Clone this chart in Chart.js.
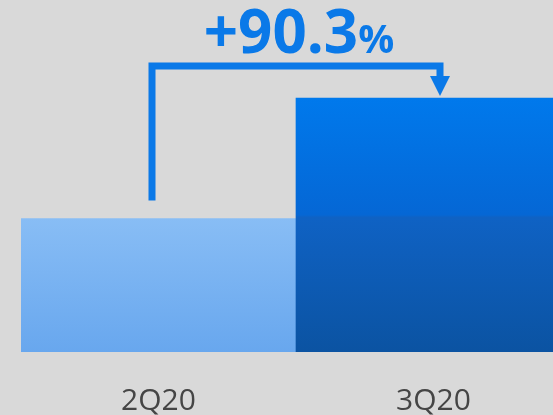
<!DOCTYPE html>
<html>
<head>
<meta charset="utf-8">
<script src="https://cdn.jsdelivr.net/npm/chart.js@4"></script>
<style>
  html, body { margin: 0; padding: 0; background: #d9d9d9; overflow: hidden; width: 553px; height: 415px; }
  #wrap { position: absolute; left: 0; top: 0; width: 571px; height: 415px; }
</style>
</head>
<body>
<div id="wrap"><canvas id="c" width="571" height="415"></canvas></div>
<script>
// Quarters and their values (index 2Q20 = 100)
const quarters = ['2Q20', '3Q20'];
const values = [100, 190.3];

const ACCENT = '#0a79e8';
const barStops = [
  [[0, '#88bdf5'], [1, '#68a7ee']],
  [[0, '#0079ec'], [0.46, '#0567d5'], [0.47, '#0f62c4'], [1, '#0b53a2']]
];

function barGradient(ctx) {
  const chart = ctx.chart;
  const area = chart.chartArea;
  if (!area || ctx.type !== 'data') return barStops[0][0][1];
  const y = chart.scales.y;
  const top = y.getPixelForValue(ctx.parsed.y);
  const bottom = y.getPixelForValue(0);
  const g = chart.ctx.createLinearGradient(0, top, 0, bottom);
  barStops[ctx.dataIndex].forEach(([o, c]) => g.addColorStop(o, c));
  return g;
}

// Bracket arrow from the first bar to the second with the growth label
const growthBracket = {
  id: 'growthBracket',
  afterDatasetsDraw(chart) {
    const meta = chart.getDatasetMeta(0);
    const b1 = meta.data[0], b2 = meta.data[1];
    const ctx = chart.ctx;
    const x1 = b1.x - 6.5, x2 = b2.x + 6.5;
    const yStart = b1.y - 18;
    const yLine = b2.y - 32;
    const yTip = b2.y - 2;
    ctx.save();
    ctx.strokeStyle = ACCENT;
    ctx.fillStyle = ACCENT;
    ctx.lineWidth = 7;
    ctx.lineJoin = 'miter';
    ctx.beginPath();
    ctx.moveTo(x1, yStart);
    ctx.lineTo(x1, yLine);
    ctx.lineTo(x2, yLine);
    ctx.lineTo(x2, yTip - 19);
    ctx.stroke();
    ctx.beginPath();
    ctx.moveTo(x2 - 10, yTip - 20);
    ctx.lineTo(x2 + 10, yTip - 20);
    ctx.lineTo(x2, yTip);
    ctx.closePath();
    ctx.fill();

    const pct = ((values[1] / values[0] - 1) * 100).toFixed(1);
    const main = '+' + pct;
    ctx.textBaseline = 'alphabetic';
    ctx.textAlign = 'left';
    ctx.font = 'bold 60px "Open Sans"';
    const w1 = ctx.measureText(main).width;
    ctx.font = 'bold 40px "Open Sans"';
    const w2 = ctx.measureText('%').width;
    const cx = 299;
    const left = cx - (w1 + w2) / 2;
    const base = 53;
    ctx.font = 'bold 60px "Open Sans"';
    ctx.fillText(main, left, base);
    ctx.font = 'bold 40px "Open Sans"';
    ctx.fillText('%', left + w1, base);
    ctx.restore();
  }
};

new Chart(document.getElementById('c'), {
  type: 'bar',
  data: {
    labels: quarters,
    datasets: [{
      data: values,
      backgroundColor: barGradient,
      borderWidth: 0,
      categoryPercentage: 1,
      barPercentage: 1
    }]
  },
  options: {
    responsive: false,
    animation: false,
    layout: { padding: { left: 21, right: 0, top: 0, bottom: 0 } },
    plugins: { legend: { display: false }, tooltip: { enabled: false } },
    scales: {
      x: {
        grid: { display: false, drawTicks: false },
        border: { display: false },
        ticks: { color: '#454545', font: { family: 'Open Sans', size: 30 }, padding: 31 },
        afterFit(scale) { scale.height = 63; }
      },
      y: {
        display: false,
        min: 0,
        max: 263.7
      }
    }
  },
  plugins: [growthBracket]
});
</script>
</body>
</html>
